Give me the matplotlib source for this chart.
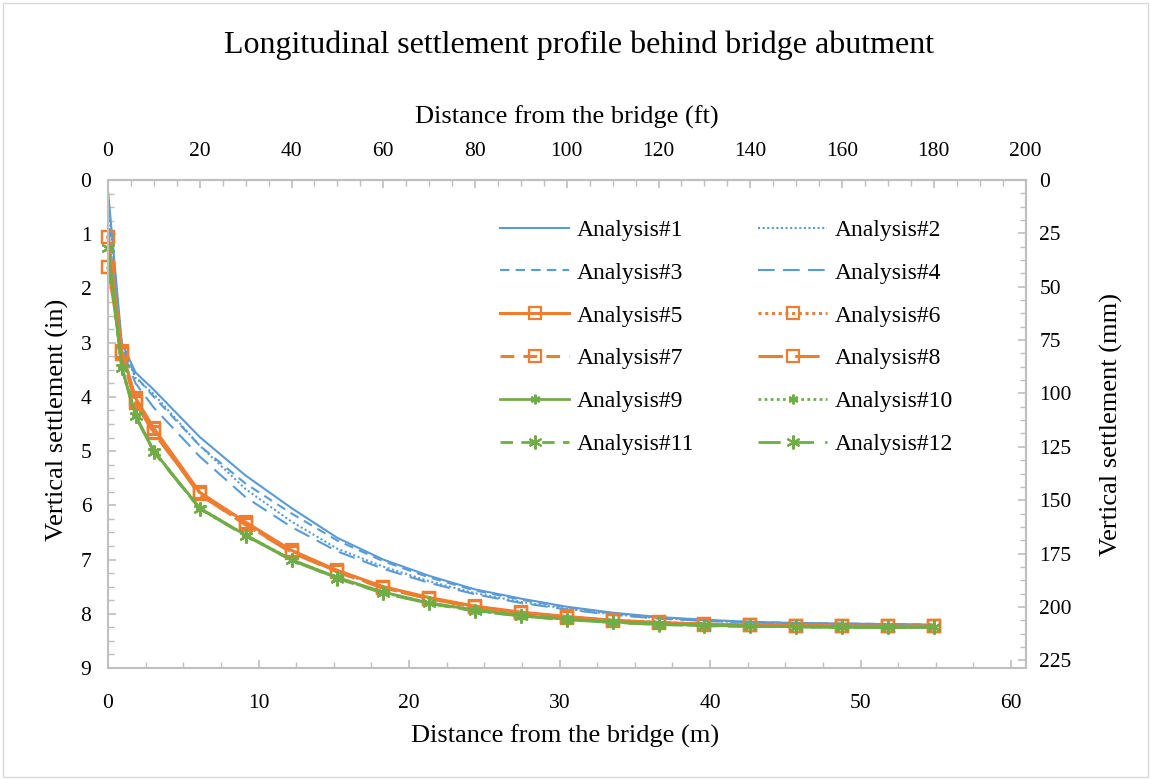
import matplotlib
matplotlib.use("Agg")
import matplotlib.pyplot as plt
from matplotlib.ticker import MultipleLocator
from matplotlib.patches import Rectangle

plt.rcParams['font.family'] = ['Liberation Serif', 'DejaVu Serif']

# Distance behind the abutment (ft) at which settlement was computed
distance_ft = [0, 3, 6, 10, 20, 30, 40, 50, 60, 70, 80, 90, 100,
               110, 120, 130, 140, 150, 160, 170, 180]

# Vertical settlement (in) for each analysis
analysis_1 = [0.20, 3.00, 3.55, 3.87, 4.74, 5.45, 6.05, 6.60, 7.00, 7.30, 7.55,
              7.72, 7.87, 7.98, 8.06, 8.11, 8.15, 8.17, 8.18, 8.19, 8.20]
analysis_2 = [0.40, 3.05, 3.65, 3.95, 4.90, 5.70, 6.30, 6.80, 7.13, 7.40, 7.62,
              7.78, 7.91, 8.01, 8.08, 8.13, 8.16, 8.18, 8.19, 8.20, 8.21]
analysis_3 = [0.60, 3.05, 3.62, 4.00, 4.90, 5.60, 6.15, 6.65, 7.03, 7.33, 7.57,
              7.74, 7.88, 7.99, 8.07, 8.12, 8.15, 8.17, 8.18, 8.19, 8.20]
analysis_4 = [0.90, 3.10, 3.75, 4.20, 5.10, 5.85, 6.40, 6.85, 7.17, 7.43, 7.64,
              7.80, 7.92, 8.02, 8.09, 8.13, 8.16, 8.18, 8.19, 8.20, 8.21]
analysis_5 = [1.05, 3.15, 4.02, 4.58, 5.76, 6.31, 6.83, 7.20, 7.50, 7.70, 7.86,
              7.97, 8.05, 8.12, 8.16, 8.19, 8.21, 8.22, 8.23, 8.23, 8.23]
analysis_6 = [1.05, 3.17, 4.05, 4.60, 5.77, 6.32, 6.84, 7.21, 7.51, 7.71, 7.87,
              7.98, 8.06, 8.12, 8.16, 8.19, 8.21, 8.22, 8.23, 8.23, 8.23]
analysis_7 = [1.60, 3.20, 4.10, 4.65, 5.80, 6.35, 6.86, 7.22, 7.52, 7.72, 7.88,
              7.98, 8.06, 8.13, 8.17, 8.20, 8.21, 8.22, 8.23, 8.23, 8.23]
analysis_8 = [1.60, 3.20, 4.12, 4.66, 5.80, 6.36, 6.87, 7.23, 7.53, 7.72, 7.88,
              7.99, 8.07, 8.13, 8.17, 8.20, 8.21, 8.22, 8.23, 8.23, 8.23]
analysis_9 = [1.26, 3.45, 4.34, 5.00, 6.05, 6.55, 7.00, 7.33, 7.60, 7.80, 7.93,
              8.03, 8.10, 8.15, 8.19, 8.21, 8.23, 8.24, 8.25, 8.25, 8.25]
analysis_10 = [1.26, 3.45, 4.35, 5.00, 6.05, 6.55, 7.00, 7.34, 7.61, 7.80, 7.94,
               8.04, 8.10, 8.15, 8.19, 8.21, 8.23, 8.24, 8.25, 8.25, 8.25]
analysis_11 = [1.26, 3.46, 4.36, 5.01, 6.06, 6.56, 7.01, 7.34, 7.61, 7.81, 7.94,
               8.04, 8.11, 8.16, 8.19, 8.22, 8.23, 8.24, 8.25, 8.25, 8.25]
analysis_12 = [1.26, 3.46, 4.36, 5.02, 6.06, 6.56, 7.01, 7.35, 7.62, 7.81, 7.95,
               8.04, 8.11, 8.16, 8.20, 8.22, 8.23, 8.24, 8.25, 8.25, 8.25]

series = [analysis_1, analysis_2, analysis_3, analysis_4, analysis_5, analysis_6,
          analysis_7, analysis_8, analysis_9, analysis_10, analysis_11, analysis_12]
labels = ["Analysis#%d" % (i + 1) for i in range(12)]

FT_TO_M = 0.3048
IN_TO_MM = 25.4
distance_m = [d * FT_TO_M for d in distance_ft]

BLUE = "#5B9BD5"
ORANGE = "#ED7D31"
GREEN = "#70AD47"
AXIS_GREY = "#BFBFBF"

dotted = (0, (1, 1.2))
dashed = (0, (4.5, 3))
longdash = (0, (8, 4))

styles = [
    dict(color=BLUE, ls="-", lw=1.5),
    dict(color=BLUE, ls=dotted, lw=1.5),
    dict(color=BLUE, ls=dashed, lw=1.5),
    dict(color=BLUE, ls=longdash, lw=1.5),
    dict(color=ORANGE, ls="-", lw=2.2, marker="s", ms=8.5, mfc="none", mew=1.6),
    dict(color=ORANGE, ls=dotted, lw=2.2, marker="s", ms=8.5, mfc="none", mew=1.6),
    dict(color=ORANGE, ls=dashed, lw=2.2, marker="s", ms=9, mfc="none", mew=1.6),
    dict(color=ORANGE, ls=longdash, lw=2.2, marker="s", ms=9, mfc="none", mew=1.6),
    dict(color=GREEN, ls="-", lw=2.0, marker=(6, 2, 0), ms=7, mew=1.5),
    dict(color=GREEN, ls=dotted, lw=2.0, marker=(6, 2, 0), ms=7, mew=1.5),
    dict(color=GREEN, ls=dashed, lw=2.0, marker=(6, 2, 0), ms=10, mew=1.5),
    dict(color=GREEN, ls=longdash, lw=2.0, marker=(6, 2, 0), ms=10, mew=1.5),
]

W, H = 1151, 780
fig = plt.figure(figsize=(W / 100, H / 100), dpi=100)
ax_left, ax_right_px, ax_top, ax_bottom = 108, 1025.5, 180, 668
ax = fig.add_axes([ax_left / W, 1 - ax_bottom / H,
                   (ax_right_px - ax_left) / W, (ax_bottom - ax_top) / H])

handles = []
for vals, lab, st in zip(series, labels, styles):
    (h,) = ax.plot(distance_m, vals, label=lab, clip_on=False, **st)
    handles.append(h)

ax.set_xlim(0, 200 * FT_TO_M)
ax.set_ylim(9, 0)

ax.xaxis.set_major_locator(MultipleLocator(10))
ax.xaxis.set_minor_locator(MultipleLocator(2.5))
ax.yaxis.set_major_locator(MultipleLocator(1))
ax.yaxis.set_minor_locator(MultipleLocator(0.25))

TICK_FS = 15.5
LABEL_FS = 19

for sp in ax.spines.values():
    sp.set_color(AXIS_GREY)
    sp.set_linewidth(1.5)

ax.tick_params(axis="both", which="both", direction="in", color=AXIS_GREY,
               labelsize=TICK_FS, top=False, right=False)
ax.tick_params(axis="both", which="major", length=6, width=1.2)
ax.tick_params(axis="both", which="minor", length=4, width=1.0)
ax.tick_params(axis="x", which="both", pad=19)
ax.tick_params(axis="y", which="both", pad=12)

# Secondary scales: feet on top, millimetres on the right
sec_x = ax.secondary_xaxis("top", functions=(lambda m: m / FT_TO_M,
                                             lambda f: f * FT_TO_M))
sec_y = ax.secondary_yaxis("right", functions=(lambda i: i * IN_TO_MM,
                                               lambda mm: mm / IN_TO_MM))
sec_x.xaxis.set_major_locator(MultipleLocator(20))
sec_x.xaxis.set_minor_locator(MultipleLocator(5))
sec_y.yaxis.set_major_locator(MultipleLocator(25))
sec_y.yaxis.set_minor_locator(MultipleLocator(6.25))
for sa in (sec_x, sec_y):
    for sp in sa.spines.values():
        sp.set_color(AXIS_GREY)
        sp.set_linewidth(1.5)
    sa.tick_params(which="both", direction="in", color=AXIS_GREY,
                   labelsize=TICK_FS)
    sa.tick_params(which="major", length=6, width=1.2)
    sa.tick_params(which="minor", length=4, width=1.0)
sec_x.tick_params(which="both", pad=14)
sec_y.tick_params(which="both", pad=10)

ax.set_xlabel("Distance from the bridge (m)", fontsize=LABEL_FS)
ax.set_ylabel("Vertical settlement (in)", fontsize=LABEL_FS)
sec_x.set_xlabel("Distance from the bridge (ft)", fontsize=LABEL_FS, labelpad=13)
sec_y.set_ylabel("Vertical settlement (mm)", fontsize=LABEL_FS, labelpad=20)

ax_w = ax_right_px - ax_left
ax_h = ax_bottom - ax_top


def frac_x(px):
    return (px - ax_left) / ax_w


def frac_y(py):
    return (ax_bottom - py) / ax_h


ax.xaxis.set_label_coords(frac_x(565), frac_y(736))
ax.xaxis.label.set_va("center")
ax.yaxis.set_label_coords(frac_x(57), frac_y(420))
ax.yaxis.label.set_ha("center")
ax.yaxis.label.set_va("center")

fig.text(0.5 * (224 + 935) / W, 1 - 45 / H,
         "Longitudinal settlement profile behind bridge abutment",
         ha="center", va="center", fontsize=23)

order = [0, 2, 4, 6, 8, 10, 1, 3, 5, 7, 9, 11]
ax.legend([handles[i] for i in order], [labels[i] for i in order],
          ncol=2, loc="upper left", bbox_to_anchor=(frac_x(491), frac_y(210)),
          frameon=False, fontsize=17, handlelength=2.9, handletextpad=0.35,
          columnspacing=2.7, labelspacing=0.9, borderaxespad=0)

fig.patches.append(Rectangle((3 / W, 3 / H), 1 - 6 / W, 1 - 6 / H,
                             transform=fig.transFigure, fill=False,
                             ec="#D9D9D9", lw=1.0))

fig.savefig("out.png", dpi=100)
